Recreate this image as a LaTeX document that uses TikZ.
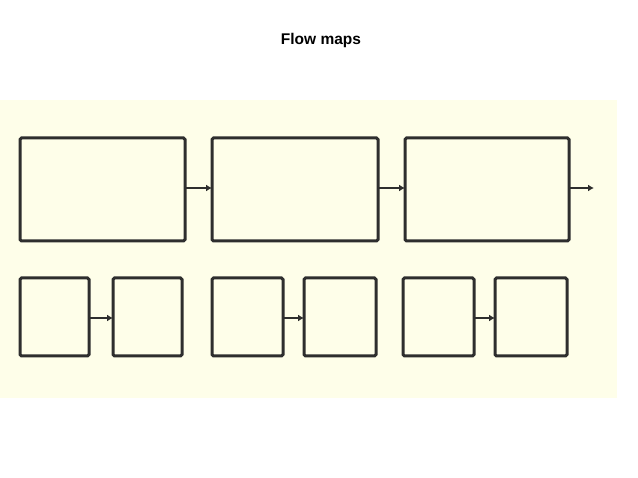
\documentclass[tikz,border=0pt]{standalone}
\usepackage{fontspec}
\setmainfont{Liberation Sans}
\usetikzlibrary{arrows.meta}
\definecolor{cream}{HTML}{FEFEE9}
\definecolor{edge}{HTML}{2E2E2E}
\begin{document}
\begin{tikzpicture}[x=1pt,y=-1pt,
  fbox/.style={draw=edge,line width=3pt,rounded corners=1.5pt,fill=cream},
  flow/.style={draw=edge,line width=2.5pt,-{Latex[length=6pt,width=7pt]}}]
\useasboundingbox (0,0) rectangle (638,478);
\fill[cream] (0,100) rectangle (617,398);
\node[font=\bfseries\fontsize{15.5}{18}\selectfont] (title) at (321,40) {Flow maps};
% top row
\draw[fbox] (20,138) rectangle (185,241);
\draw[fbox] (212,138) rectangle (378,241);
\draw[fbox] (405,138) rectangle (569,241);
\coordinate (t1) at (185,188); \coordinate (t2) at (212,188);
\coordinate (t3) at (378,188); \coordinate (t4) at (405,188);
\coordinate (t5) at (569,188); \coordinate (t6) at (594,188);
\draw[flow] (t1) -- (t2);
\draw[flow] (t3) -- (t4);
\draw[flow] (t5) -- (t6);
% bottom row
\draw[fbox] (20,278) rectangle (89,356);
\draw[fbox] (113,278) rectangle (182,356);
\draw[fbox] (212,278) rectangle (283,356);
\draw[fbox] (304,278) rectangle (376,356);
\draw[fbox] (403,278) rectangle (474,356);
\draw[fbox] (495,278) rectangle (567,356);
\coordinate (b1) at (89,318); \coordinate (b2) at (113,318);
\coordinate (b3) at (283,318); \coordinate (b4) at (304,318);
\coordinate (b5) at (474,318); \coordinate (b6) at (495,318);
\draw[flow] (b1) -- (b2);
\draw[flow] (b3) -- (b4);
\draw[flow] (b5) -- (b6);
\end{tikzpicture}
\end{document}
